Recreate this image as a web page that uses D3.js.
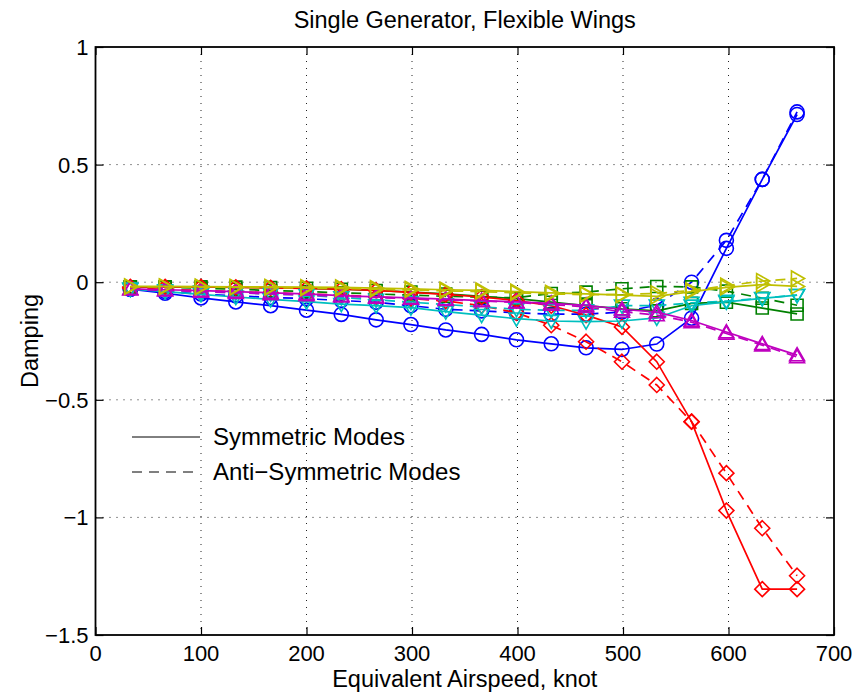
<!DOCTYPE html>
<html>
<head>
<meta charset="utf-8">
<title>Single Generator, Flexible Wings</title>
<script src="https://cdn.jsdelivr.net/npm/d3@7"></script>
<style>
    body { margin: 0; background: #fff; }
    svg text { font-family: "Liberation Sans", Arial, Helvetica, sans-serif; fill: #000; }
</style>
</head>
<body>
<div class="chart"></div>
<script>
/* Damping vs airspeed */

var speeds = [33, 66, 100, 133, 166, 200, 233, 266, 299, 332, 366, 399, 432, 465, 499, 532, 565, 598, 632, 665];

// symmetric (solid) and anti-symmetric (dashed) modes
var blueSym = [-0.03, -0.047, -0.067, -0.084, -0.10, -0.119, -0.137, -0.16, -0.18, -0.203, -0.222, -0.245, -0.262, -0.279, -0.286, -0.263, -0.153, 0.144, 0.437, 0.713];
var blueAnti = [-0.03, -0.04, -0.05, -0.058, -0.065, -0.07, -0.078, -0.085, -0.1, -0.115, -0.122, -0.13, -0.136, -0.136, -0.127, -0.098, 0.0, 0.178, 0.437, 0.724];
var greenSym = [-0.02, -0.02, -0.02, -0.021, -0.023, -0.026, -0.03, -0.035, -0.042, -0.05, -0.06, -0.07, -0.085, -0.1, -0.113, -0.122, -0.09, -0.085, -0.11, -0.135];
var greenAnti = [-0.02, -0.022, -0.025, -0.03, -0.035, -0.04, -0.045, -0.05, -0.055, -0.06, -0.064, -0.066, -0.048, -0.042, -0.028, -0.018, -0.02, -0.038, -0.068, -0.098];
var redSym = [-0.02, -0.02, -0.02, -0.022, -0.024, -0.026, -0.03, -0.035, -0.043, -0.052, -0.063, -0.078, -0.1, -0.14, -0.19, -0.338, -0.593, -0.971, -1.305, -1.305];
var redAnti = [-0.025, -0.03, -0.035, -0.04, -0.045, -0.05, -0.055, -0.062, -0.07, -0.08, -0.1, -0.13, -0.183, -0.253, -0.338, -0.437, -0.593, -0.812, -1.046, -1.248];
var cyanSym = [-0.028, -0.04, -0.052, -0.063, -0.073, -0.083, -0.093, -0.1, -0.108, -0.125, -0.14, -0.155, -0.165, -0.168, -0.165, -0.152, -0.1, -0.084, -0.069, -0.055];
var cyanAnti = [-0.03, -0.035, -0.04, -0.045, -0.05, -0.055, -0.065, -0.075, -0.085, -0.095, -0.105, -0.115, -0.12, -0.12, -0.1, -0.1, -0.088, -0.08, -0.068, -0.055];
var magentaSym = [-0.028, -0.032, -0.036, -0.04, -0.045, -0.05, -0.057, -0.062, -0.067, -0.072, -0.078, -0.084, -0.09, -0.098, -0.115, -0.127, -0.163, -0.212, -0.262, -0.31];
var magentaAnti = [-0.03, -0.035, -0.04, -0.045, -0.05, -0.055, -0.06, -0.065, -0.07, -0.075, -0.08, -0.086, -0.095, -0.105, -0.125, -0.14, -0.17, -0.218, -0.268, -0.318];
var yellowSym = [-0.018, -0.018, -0.019, -0.02, -0.02, -0.021, -0.022, -0.025, -0.028, -0.032, -0.035, -0.04, -0.045, -0.05, -0.055, -0.06, -0.04, -0.022, -0.01, -0.018];
var yellowAnti = [-0.02, -0.02, -0.021, -0.022, -0.023, -0.025, -0.027, -0.03, -0.033, -0.037, -0.04, -0.045, -0.05, -0.053, -0.052, -0.048, -0.035, -0.015, 0.005, 0.016];

var xTicks = [0, 100, 200, 300, 400, 500, 600, 700];
var yTicks = [1, 0.5, 0, -0.5, -1, -1.5];
var legendLabels = ["Symmetric Modes", "Anti\u2212Symmetric Modes"];

var modes = [
    { color: "#0000ff", marker: "circle", sym: blueSym, anti: blueAnti },
    { color: "#008000", marker: "square", sym: greenSym, anti: greenAnti },
    { color: "#ff0000", marker: "diamond", sym: redSym, anti: redAnti },
    { color: "#00bfbf", marker: "triDown", sym: cyanSym, anti: cyanAnti },
    { color: "#bf00bf", marker: "triUp", sym: magentaSym, anti: magentaAnti },
    { color: "#bfbf00", marker: "triRight", sym: yellowSym, anti: yellowAnti }
];

(function () {
    var W = 862, H = 693;
    var pLeft = 95.5, pRight = 834, pTop = 47, pBottom = 635;
    var dash = "10,7";

    var svg = d3.select(".chart").append("svg")
        .attr("width", W)
        .attr("height", H);

    svg.append("rect").attr("width", W).attr("height", H).attr("fill", "#fff");

    var x = d3.scaleLinear().domain([0, 700]).range([pLeft, pRight]);
    var y = d3.scaleLinear().domain([-1.5, 1]).range([pBottom, pTop]);

    function fmt(v) {
        return (v + "").replace("-", "\u2212");
    }

    // grid
    var grid = svg.append("g").attr("class", "grid")
        .attr("stroke", "#222")
        .attr("stroke-width", 1)
        .attr("stroke-dasharray", "1,6");

    grid.selectAll("line.vx")
        .data(xTicks.slice(1, -1))
        .enter().append("line")
        .attr("x1", function (d) { return x(d); })
        .attr("x2", function (d) { return x(d); })
        .attr("y1", pTop)
        .attr("y2", pBottom);

    grid.selectAll("line.hy")
        .data(yTicks.slice(1, -1))
        .enter().append("line")
        .attr("y1", function (d) { return y(d); })
        .attr("y2", function (d) { return y(d); })
        .attr("x1", pLeft)
        .attr("x2", pRight);

    // axes (ticks pointing inside, on all four sides)
    var tickLen = 8;
    svg.append("g")
        .attr("transform", "translate(0," + pBottom + ")")
        .call(d3.axisTop(x).tickValues(xTicks).tickSize(tickLen).tickFormat(""));
    svg.append("g")
        .attr("transform", "translate(0," + pTop + ")")
        .call(d3.axisBottom(x).tickValues(xTicks).tickSize(tickLen).tickFormat(""));
    svg.append("g")
        .attr("transform", "translate(" + pLeft + ",0)")
        .call(d3.axisRight(y).tickValues(yTicks).tickSize(tickLen).tickFormat(""));
    svg.append("g")
        .attr("transform", "translate(" + pRight + ",0)")
        .call(d3.axisLeft(y).tickValues(yTicks).tickSize(tickLen).tickFormat(""));

    svg.selectAll(".domain").remove();
    svg.selectAll(".tick line").attr("stroke", "#000").attr("stroke-width", 1.2);

    // tick labels
    svg.selectAll("text.xlab")
        .data(xTicks)
        .enter().append("text")
        .attr("class", "xlab")
        .attr("x", function (d) { return x(d); })
        .attr("y", pBottom + 26)
        .attr("text-anchor", "middle")
        .attr("font-size", 22)
        .text(function (d) { return fmt(d); });

    svg.selectAll("text.ylab")
        .data(yTicks)
        .enter().append("text")
        .attr("class", "ylab")
        .attr("x", pLeft - 7)
        .attr("y", function (d) { return y(d) + 8; })
        .attr("text-anchor", "end")
        .attr("font-size", 22)
        .text(function (d) { return fmt(d); });

    // series
    svg.append("clipPath").attr("id", "plotclip")
        .append("rect")
        .attr("x", pLeft).attr("y", pTop)
        .attr("width", pRight - pLeft).attr("height", pBottom - pTop);

    var line = d3.line()
        .x(function (d) { return x(d[0]); })
        .y(function (d) { return y(d[1]); });

    function markerPath(type) {
        var r = 7, s = 6, t = 7.5;
        if (type === "square") return "M" + (-s) + "," + (-s) + "H" + s + "V" + s + "H" + (-s) + "Z";
        if (type === "diamond") return "M0," + (-t) + "L" + t + ",0L0," + t + "L" + (-t) + ",0Z";
        if (type === "triUp") return "M0," + (-t) + "L" + t + "," + (t * 0.75) + "L" + (-t) + "," + (t * 0.75) + "Z";
        if (type === "triDown") return "M0," + t + "L" + t + "," + (-t * 0.75) + "L" + (-t) + "," + (-t * 0.75) + "Z";
        if (type === "triRight") return "M" + t + ",0L" + (-t * 0.75) + "," + (-t) + "L" + (-t * 0.75) + "," + t + "Z";
        return d3.arc()({ innerRadius: 0, outerRadius: r, startAngle: 0, endAngle: 2 * Math.PI });
    }

    var plot = svg.append("g").attr("clip-path", "url(#plotclip)");

    modes.forEach(function (m) {
        [["sym", null], ["anti", dash]].forEach(function (kind) {
            var pts = speeds.map(function (s, i) { return [s, m[kind[0]][i]]; });
            var g = plot.append("g");
            g.append("path")
                .datum(pts)
                .attr("d", line)
                .attr("fill", "none")
                .attr("stroke", m.color)
                .attr("stroke-width", 1.7)
                .attr("stroke-dasharray", kind[1]);
            g.selectAll("path.mk")
                .data(pts)
                .enter().append("path")
                .attr("class", "mk")
                .attr("transform", function (d) { return "translate(" + x(d[0]) + "," + y(d[1]) + ")"; })
                .attr("d", markerPath(m.marker))
                .attr("fill", "none")
                .attr("stroke", m.color)
                .attr("stroke-width", 1.6);
        });
    });

    // frame
    svg.append("rect")
        .attr("x", pLeft).attr("y", pTop)
        .attr("width", pRight - pLeft).attr("height", pBottom - pTop)
        .attr("fill", "none")
        .attr("stroke", "#000")
        .attr("stroke-width", 1.8);

    // legend
    var legend = svg.append("g").attr("class", "legend");
    legendLabels.forEach(function (lab, i) {
        var ly = 437 + i * 35;
        legend.append("line")
            .attr("x1", 132).attr("x2", 200)
            .attr("y1", ly).attr("y2", ly)
            .attr("stroke", "#000")
            .attr("stroke-width", 1)
            .attr("stroke-dasharray", i === 0 ? null : dash);
        legend.append("text")
            .attr("x", 213)
            .attr("y", ly + 8)
            .attr("font-size", 24)
            .text(lab);
    });

    // titles
    svg.append("text")
        .attr("x", (pLeft + pRight) / 2)
        .attr("y", 28)
        .attr("text-anchor", "middle")
        .attr("font-size", 23.5)
        .text("Single Generator, Flexible Wings");

    svg.append("text")
        .attr("x", (pLeft + pRight) / 2)
        .attr("y", 687)
        .attr("text-anchor", "middle")
        .attr("font-size", 23.5)
        .text("Equivalent Airspeed, knot");

    svg.append("text")
        .attr("transform", "translate(38," + ((pTop + pBottom) / 2) + ") rotate(-90)")
        .attr("text-anchor", "middle")
        .attr("font-size", 23.5)
        .text("Damping");
})();
</script>
</body>
</html>
